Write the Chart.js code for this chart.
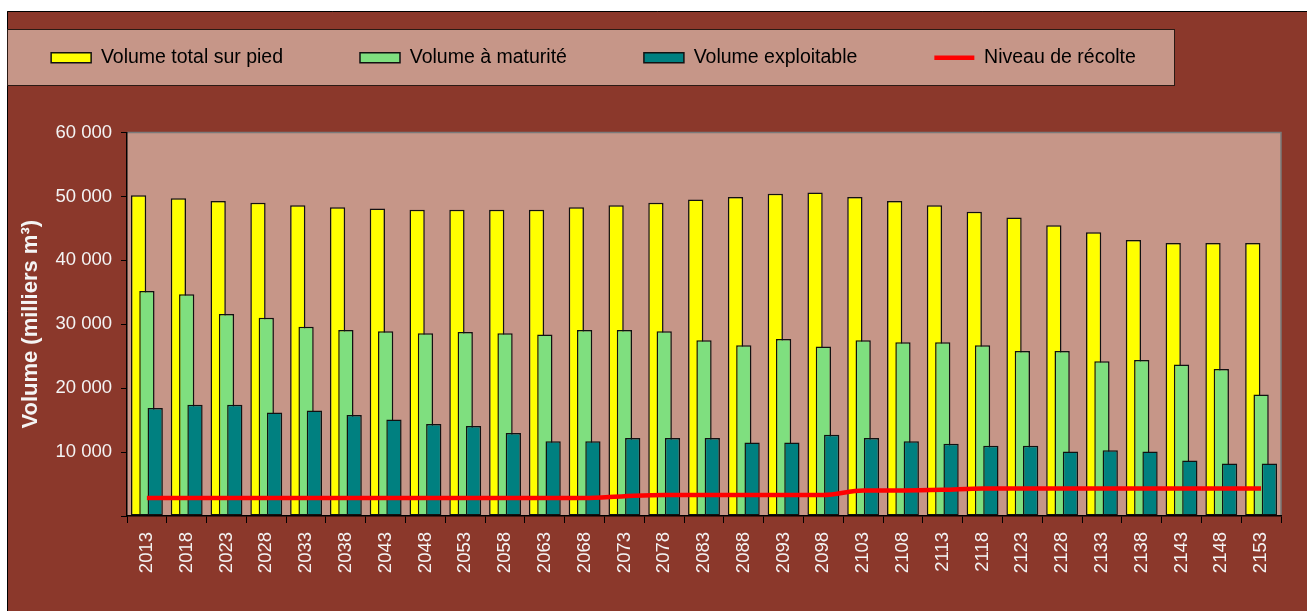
<!DOCTYPE html>
<html>
<head>
<meta charset="utf-8">
<script src="https://cdn.jsdelivr.net/npm/chart.js@4.4.1/dist/chart.umd.min.js"></script>
<style>
  html, body { margin: 0; padding: 0; background: #fff; }
  canvas { display: block; }
</style>
</head>
<body>
<canvas id="chart" width="1307" height="611"></canvas>
<script>
// categories (years)
const years = ['2013', '2018', '2023', '2028', '2033', '2038', '2043', '2048', '2053', '2058',
  '2063', '2068', '2073', '2078', '2083', '2088', '2093', '2098', '2103', '2108',
  '2113', '2118', '2123', '2128', '2133', '2138', '2143', '2148', '2153'];

// series, in milliers m3
const volumeTotal = [50200, 49700, 49300, 49000, 48600, 48300, 48100, 47900, 47900, 47900,
  47900, 48300, 48600, 49000, 49500, 49900, 50400, 50600, 49900, 49300,
  48600, 47600, 46700, 45500, 44400, 43200, 42700, 42700, 42700];
const volumeMaturite = [35200, 34700, 31600, 31000, 29600, 29100, 28900, 28600, 28800, 28600,
  28400, 29100, 29100, 28900, 27500, 26700, 27700, 26500, 27500, 27200,
  27200, 26700, 25800, 25800, 24200, 24400, 23700, 23000, 19000];
const volumeExploitable = [16900, 17400, 17400, 16200, 16500, 15800, 15100, 14400, 14100, 13000,
  11700, 11700, 12200, 12200, 12200, 11500, 11500, 12700, 12200, 11700,
  11300, 11000, 11000, 10100, 10300, 10100, 8700, 8200, 8200];
const niveauRecolte = [2800, 2800, 2800, 2800, 2800, 2800, 2800, 2800, 2800, 2800,
  2800, 2800, 3100, 3300, 3300, 3300, 3300, 3300, 4000, 4000,
  4100, 4300, 4300, 4300, 4300, 4300, 4300, 4300, 4300];

const FONT = 'Liberation Sans, Arial, sans-serif';
const BROWN = '#8B382B';
const PINK = '#C69688';
const LIGHT = '#F4F4F4';

// background: white page, brown frame, legend box, pink plot area
const frameBg = {
  id: 'frameBg',
  beforeDraw(chart) {
    const ctx = chart.ctx;
    const a = chart.chartArea;
    ctx.save();
    ctx.fillStyle = '#fff';
    ctx.fillRect(0, 0, chart.width, chart.height);
    ctx.fillStyle = BROWN;
    ctx.fillRect(7, 11, chart.width - 7, chart.height - 11);
    ctx.strokeStyle = '#000';
    ctx.lineWidth = 1;
    ctx.beginPath();
    ctx.moveTo(7.5, chart.height);
    ctx.lineTo(7.5, 11.5);
    ctx.lineTo(chart.width, 11.5);
    ctx.stroke();

    ctx.fillStyle = PINK;
    ctx.fillRect(7, 29, 1167, 56);
    ctx.strokeStyle = '#2a1a14';
    ctx.strokeRect(7.5, 29.5, 1167, 56);

    ctx.fillStyle = PINK;
    ctx.fillRect(a.left, a.top, a.right - a.left, a.bottom - a.top);
    ctx.strokeStyle = '#7a7a7a';
    ctx.lineWidth = 1.5;
    ctx.beginPath();
    ctx.moveTo(a.left, a.top);
    ctx.lineTo(a.right, a.top);
    ctx.lineTo(a.right, a.bottom);
    ctx.stroke();
    ctx.restore();
  }
};

// centre the legend on its box, keep it on one row
const legendPlace = {
  id: 'legendPlace',
  afterLayout(chart) {
    const lg = chart.legend;
    const p = lg.options.labels.padding;
    lg.left = 7 - 147;
    lg.right = 1174 + 153;
    lg.width = lg.right - lg.left;
    lg.top = 48 - p;
    lg.bottom = lg.top + lg.height;
  }
};

// yellow under green under teal, red line on top
const drawOrder = {
  id: 'drawOrder',
  beforeDatasetsDraw(chart) {
    chart.data.datasets.forEach((ds, i) => chart.getDatasetMeta(i).controller.draw());
    return false;
  }
};

const fmt = v => v === 0 ? '' : String(v).replace(/\B(?=(\d{3})+(?!\d))/g, ' ');

new Chart(document.getElementById('chart').getContext('2d'), {
  type: 'bar',
  data: {
    labels: years,
    datasets: [
      {
        label: 'Volume total sur pied',
        data: volumeTotal,
        backgroundColor: '#FFFF00',
        borderColor: '#111',
        borderWidth: 1.5,
        borderSkipped: false,
        pointStyle: 'rect'
      },
      {
        label: 'Volume à maturité',
        data: volumeMaturite,
        backgroundColor: '#7FDF7F',
        borderColor: '#111',
        borderWidth: 1.5,
        borderSkipped: false,
        pointStyle: 'rect'
      },
      {
        label: 'Volume exploitable',
        data: volumeExploitable,
        backgroundColor: '#008080',
        borderColor: '#111',
        borderWidth: 1.5,
        borderSkipped: false,
        pointStyle: 'rect'
      },
      {
        type: 'line',
        label: 'Niveau de récolte',
        data: niveauRecolte,
        borderColor: '#FF0000',
        backgroundColor: '#FF0000',
        borderWidth: 4.5,
        pointRadius: 0,
        pointStyle: 'line',
        tension: 0.4,
        cubicInterpolationMode: 'monotone',
        fill: false
      }
    ]
  },
  options: {
    responsive: false,
    animation: false,
    layout: { padding: { left: 7, right: 26, top: 26, bottom: 0 } },
    datasets: {
      bar: { categoryPercentage: 0.626, barPercentage: 1.84 }
    },
    plugins: {
      tooltip: { enabled: false },
      legend: {
        position: 'top',
        labels: {
          usePointStyle: true,
          pointStyleWidth: 40,
          boxHeight: 10,
          padding: 77,
          color: '#000',
          font: { family: FONT, size: 19.5 }
        }
      }
    },
    scales: {
      x: {
        grid: { drawOnChartArea: false, color: '#000', tickLength: 7 },
        border: { color: '#000', width: 1.5 },
        ticks: {
          color: LIGHT,
          font: { family: FONT, size: 18.5 },
          minRotation: 90,
          maxRotation: 90,
          padding: 9,
          autoSkip: false
        },
        afterFit(s) { s.height = 95; }
      },
      y: {
        min: 0,
        max: 60000,
        grid: { drawOnChartArea: false, color: '#000', tickLength: 6 },
        border: { color: '#000', width: 1.5 },
        ticks: {
          stepSize: 10000,
          color: LIGHT,
          font: { family: FONT, size: 18.5 },
          padding: 9,
          callback: v => fmt(v)
        },
        title: {
          display: true,
          text: 'Volume (milliers m³)',
          color: LIGHT,
          font: { family: FONT, size: 22, weight: 'bold' },
          padding: { top: 11, bottom: 0 }
        },
        afterFit(s) { s.width = 120; }
      }
    }
  },
  plugins: [frameBg, legendPlace, drawOrder]
});
</script>
</body>
</html>
